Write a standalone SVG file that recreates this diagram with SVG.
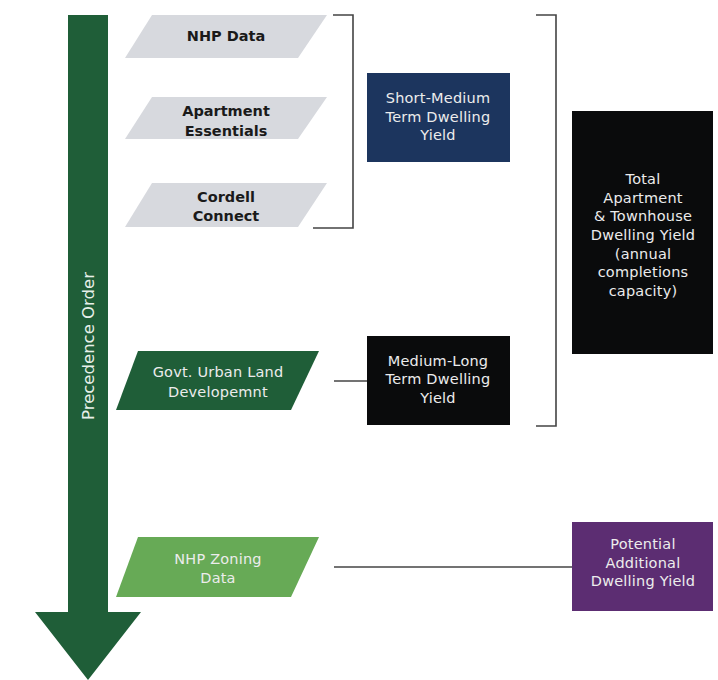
<svg xmlns="http://www.w3.org/2000/svg" width="718" height="680" viewBox="0 0 718 680">
<style>
text{font-family:"DejaVu Sans","Liberation Sans",sans-serif;text-anchor:middle}
.g{fill:#d7d9de}
.gt{fill:#1a1a1a;font-size:14.5px;font-weight:bold}
.bt{fill:#ececec;font-size:14.5px;letter-spacing:0.2px}
.line{stroke:#444;stroke-width:1.6;fill:none}
</style>
<rect width="718" height="680" fill="#fff"/>
<g id="arrow">
<polygon points="68,15 108,15 108,612 141,612 88,680 35,612 68,612" fill="#1f5e38"/>
<text x="88" y="346" transform="rotate(-90 88 346)" dy="6" style="fill:#e8f0ea;font-size:16.5px">Precedence Order</text>
</g>
<g id="nhp-data">
<polygon class="g" points="152,15 327,15 298,58 125,58"/>
<text class="gt" x="226" y="41">NHP Data</text>
</g>
<g id="apartment-essentials">
<polygon class="g" points="152,97 327,97 298,139 125,139"/>
<text class="gt" x="226" y="116">Apartment</text>
<text class="gt" x="226" y="136">Essentials</text>
</g>
<g id="cordell-connect">
<polygon class="g" points="152,183 327,183 298,227 125,227"/>
<text class="gt" x="226" y="202">Cordell</text>
<text class="gt" x="226" y="221">Connect</text>
</g>
<g id="govt">
<polygon points="138,351 319,351 291,410 116,410" fill="#1f5e38"/>
<text class="bt" x="218" y="377">Govt. Urban Land</text>
<text class="bt" x="218" y="397">Developemnt</text>
</g>
<g id="nhp-zoning">
<polygon points="138,537 319,537 291,597 116,597" fill="#67aa56"/>
<text class="bt" x="218" y="564">NHP Zoning</text>
<text class="bt" x="218" y="583">Data</text>
</g>
<g id="short-medium">
<rect x="367" y="73" width="143" height="89" fill="#1c355e"/>
<text class="bt" x="438" y="103">Short-Medium</text>
<text class="bt" x="438" y="122">Term Dwelling</text>
<text class="bt" x="438" y="140">Yield</text>
</g>
<g id="medium-long">
<rect x="367" y="336" width="143" height="89" fill="#0a0b0c"/>
<text class="bt" x="438" y="366">Medium-Long</text>
<text class="bt" x="438" y="384">Term Dwelling</text>
<text class="bt" x="438" y="403">Yield</text>
</g>
<g id="total">
<rect x="572" y="111" width="141" height="243" fill="#0a0b0c"/>
<text class="bt" x="643" y="184">Total</text>
<text class="bt" x="643" y="203">Apartment</text>
<text class="bt" x="643" y="221">&amp; Townhouse</text>
<text class="bt" x="643" y="240">Dwelling Yield</text>
<text class="bt" x="643" y="259">(annual</text>
<text class="bt" x="643" y="277">completions</text>
<text class="bt" x="643" y="296">capacity)</text>
</g>
<g id="potential">
<rect x="572" y="522" width="141" height="89" fill="#5c2d72"/>
<text class="bt" x="643" y="549">Potential</text>
<text class="bt" x="643" y="568">Additional</text>
<text class="bt" x="643" y="586">Dwelling Yield</text>
</g>
<g id="connectors">
<polyline class="line" points="333,15 353,15 353,228 313,228"/>
<polyline class="line" points="536,15 556,15 556,426 536,426"/>
<line class="line" x1="334" y1="381" x2="367" y2="381"/>
<line class="line" x1="334" y1="567" x2="572" y2="567"/>
</g>
</svg>
